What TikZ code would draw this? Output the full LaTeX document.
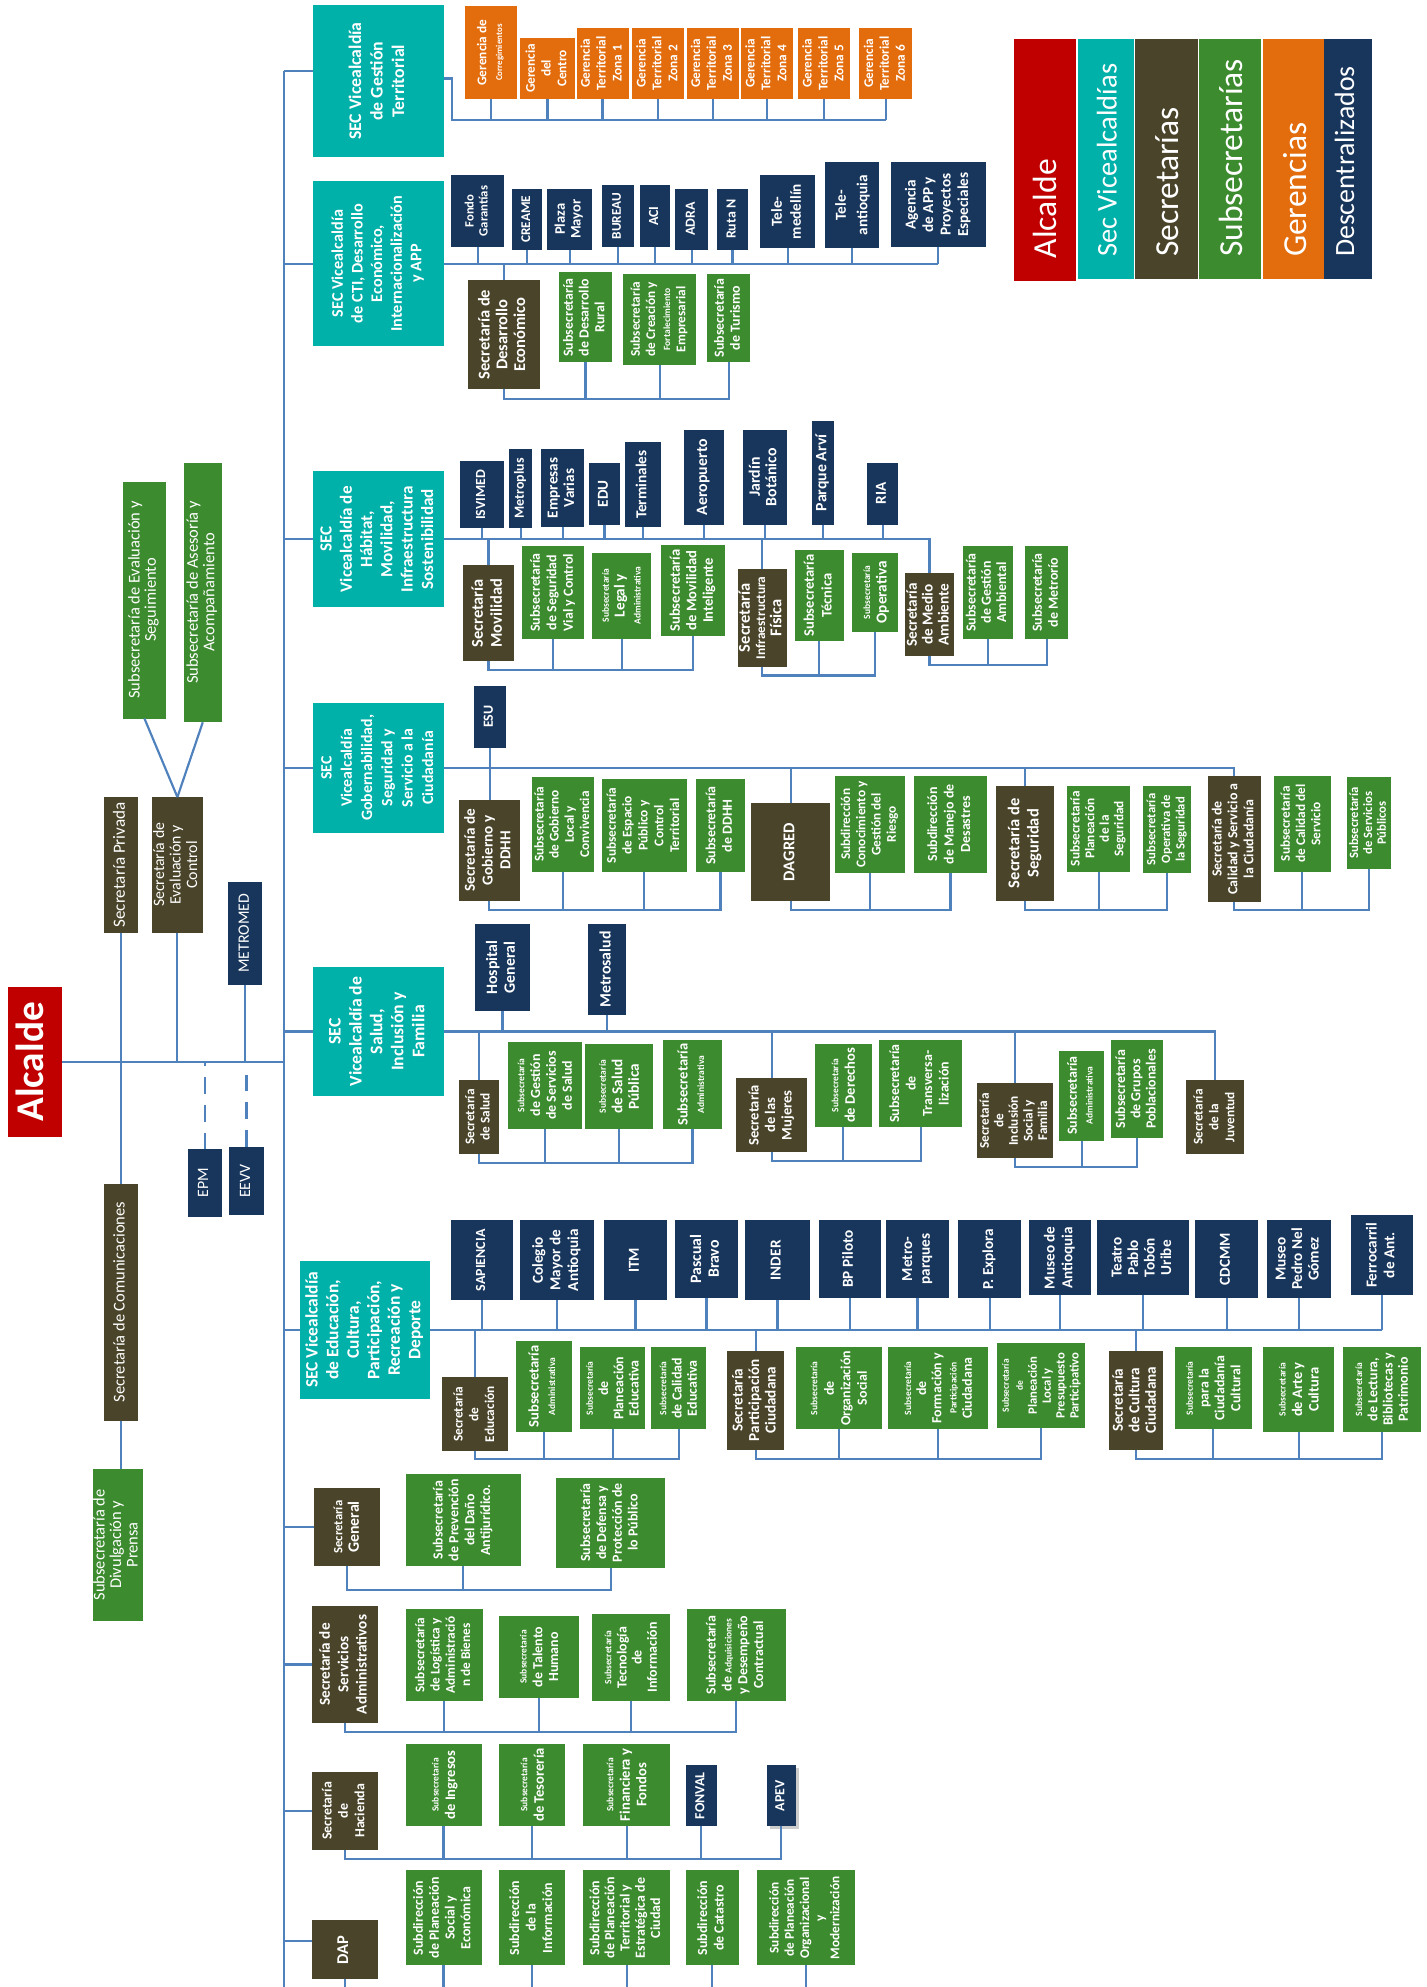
\documentclass[tikz,border=0pt]{standalone}
\usepackage{fontspec}
\setmainfont{Carlito}
\usepackage{graphicx}
\usetikzlibrary{shadows}
\definecolor{cred}{RGB}{192,0,0}
\definecolor{cteal}{RGB}{0,177,169}
\definecolor{cbrown}{RGB}{74,69,42}
\definecolor{cgreen}{RGB}{60,139,46}
\definecolor{corange}{RGB}{227,108,12}
\definecolor{cnavy}{RGB}{24,54,92}
\definecolor{cline}{RGB}{79,129,189}
\newcommand{\rt}[1]{\rotatebox{90}{\begin{tabular}{@{}c@{}}#1\end{tabular}}}
\newcommand{\sm}[1]{{\fontsize{7.5}{8}\selectfont #1}}
\newcommand{\bx}[7]{\node[#1,minimum width={(#5-#3)*1pt},minimum height={(#6-#4)*1pt}] (#2) at ({(#3+#5)/2},{(#4+#6)/2}) {\rt{#7}};}
\tikzset{
  box/.style={inner sep=0pt, outer sep=0pt, text=white},
  fz/.style 2 args={font=\bfseries\fontsize{#1}{#2}\selectfont},
  fr/.style 2 args={font=\fontsize{#1}{#2}\selectfont},
  sec/.style={box, fill=cteal, fz={13.5}{16.5}},
  ger/.style={box, fill=corange, fz={10.5}{12.5}},
  ent/.style={box, fill=cnavy, fz={12}{14}},
  scr/.style={box, fill=cbrown, fz={12}{14}},
  sub/.style={box, fill=cgreen, fz={11}{12.5}},
  conn/.style={draw=cline, line width=1.7pt},
  lgbox/.style={inner sep=0pt, outer sep=0pt},
  lgtxt/.style={rotate=90, anchor=west, inner sep=0pt, text=white},
}
\begin{document}
\begin{tikzpicture}[x=1pt,y=-1pt]
\fill[white] (0,0) rectangle (1126,1568);
\useasboundingbox (0,0) rectangle (1126,1568);
\coordinate (spTop) at (224,56);
\coordinate (spBot) at (224,1568);
\coordinate (pgK) at (0,1568);

% ---------- Legend ----------
\node[lgbox, fill=cred, minimum width=49pt, minimum height=191pt] (lg1) at (824.5,126.5) {};
\node[lgbox, fill=cteal, minimum width=44pt, minimum height=189pt] (lg2) at (873,125.5) {};
\node[lgbox, fill=cbrown, minimum width=49pt, minimum height=189pt] (lg3) at (920.5,125.5) {};
\node[lgbox, fill=cgreen, minimum width=49pt, minimum height=189pt] (lg4) at (970.5,125.5) {};
\node[lgbox, fill=corange, minimum width=48pt, minimum height=189pt] (lg5) at (1021,125.5) {};
\node[lgbox, fill=cnavy, minimum width=38pt, minimum height=189pt] (lg6) at (1064,125.5) {};
\node[lgtxt, fr={26.5}{28}] (lg1t) at (824.5,204) {Alcalde};
\node[lgtxt, fr={22.5}{24}] (lg2t) at (873.5,203) {Sec Vicealcaldías};
\node[lgtxt, fr={26.5}{28}] (lg3t) at (921,203) {Secretarías};
\node[lgtxt, fr={26.5}{28}] (lg4t) at (971,203) {Subsecretarías};
\node[lgtxt, fr={26.5}{28}] (lg5t) at (1022,203) {Gerencias};
\node[lgtxt, fr={22}{24}] (lg6t) at (1061,203) {Descentralizados};

% ---------- Left side ----------
\bx{box,fill=cred,fz={31}{34}}{alc}{6}{779}{49}{897}{Alcalde}
\bx{scr,fr={13.5}{15}}{spv}{82}{629}{109}{736}{Secretaría Privada}
\bx{scr,fr={12.5}{13}}{evc}{120}{629}{160}{736}{Secretaría de\\Evaluación y\\Control}
\bx{sub,fr={13}{13}}{ses}{97}{380}{131}{567}{Subsecretaría de Evaluación y\\Seguimiento}
\bx{sub,fr={13}{13}}{sas}{145}{365}{175}{570}{Subsecretaría de Asesoría y\\Acompañamiento}
\bx{ent,fr={12.5}{14}}{mtm}{180}{696}{207}{777}{METROMED}
\bx{ent,fr={12.5}{14}}{epm}{148}{907}{175}{960}{EPM}
\bx{ent,fr={12.5}{14}}{eev}{181}{905}{208}{959}{EEVV}
\bx{scr,fr={13}{14}}{com}{82}{934}{109}{1121}{Secretaría de Comunicaciones}
\bx{sub,fr={13}{13}}{div}{73}{1159}{113}{1279}{Subsecretaría de\\Divulgación y\\Prensa}

\draw[conn] (spTop) -- (spBot);
\draw[conn] (alc.east) -- (alc.east -| spTop);
\draw[conn] (spv.south) -- (spv.south |- alc.east);
\draw[conn] (com.north) -- (com.north |- alc.east);
\draw[conn] (com.south) -- (com.south |- div.north);
\draw[conn] (evc.south) -- (evc.south |- alc.east);
\draw[conn] (ses.south) -- (evc.north);
\draw[conn] (sas.south) -- (evc.north);
\draw[conn] (mtm.south) -- (mtm.south |- alc.east);
\draw[conn, dash pattern=on 13pt off 9pt] (epm.north) -- (epm.north |- alc.east);
\draw[conn, dash pattern=on 13pt off 9pt] (eev.north) -- (eev.north |- alc.east);

% ---------- Territorial ----------
\bx{sec,fz={14}{17}}{ter}{247}{4}{350}{124}{SEC Vicealcaldía\\de Gestión\\Territorial}
\bx{ger}{gco}{367}{5}{408}{78}{Gerencia de\\{\fontsize{7}{8}\selectfont Corregimientos}}
\bx{ger}{gce}{410}{30}{454}{78}{Gerencia\\del\\Centro}
\bx{ger}{gz1}{455}{22}{496}{78}{Gerencia\\Territorial\\Zona 1}
\bx{ger}{gz2}{499}{22}{540}{78}{Gerencia\\Territorial\\Zona 2}
\bx{ger}{gz3}{542}{22}{583}{78}{Gerencia\\Territorial\\Zona 3}
\bx{ger}{gz4}{585}{22}{626}{78}{Gerencia\\Territorial\\Zona 4}
\bx{ger}{gz5}{630}{22}{671}{78}{Gerencia\\Territorial\\Zona 5}
\bx{ger}{gz6}{678}{22}{720}{78}{Gerencia\\Territorial\\Zona 6}
\coordinate (terK) at (357,95);
\draw[conn] ([yshift=8pt]ter.west) -- ([yshift=8pt]ter.west -| spTop);
\draw[conn] ([yshift=2pt]ter.east) -| (terK) -- (terK -| gz6.south);
\foreach \n in {gco,gce,gz1,gz2,gz3,gz4,gz5,gz6} \draw[conn] (\n.south) -- (\n.south |- terK);

% ---------- CTI ----------
\bx{sec,fz={12.8}{15.5}}{cti}{247}{143}{350}{273}{SEC Vicealcaldía\\de CTI, Desarrollo\\Económico,\\Internacionalización\\y APP}
\bx{ent,fz={10}{11}}{fon}{356}{138}{398}{195}{Fondo\\Garantías}
\bx{ent,fz={10.5}{12}}{crm}{404}{149}{428}{197}{CREAME}
\bx{ent,fz={11.5}{12.5}}{plz}{432}{149}{467}{197}{Plaza\\Mayor}
\bx{ent,fz={10.5}{12}}{bur}{475}{146}{500}{195}{BUREAU}
\bx{ent,fz={11}{12}}{aci}{505}{146}{529}{195}{ACI}
\bx{ent,fz={11}{12}}{adr}{533}{149}{559}{197}{ADRA}
\bx{ent,fz={11}{12}}{rtn}{566}{149}{590}{197}{Ruta N}
\bx{ent,fz={12}{15}}{tme}{600}{138}{643}{196}{Tele-\\medellín}
\bx{ent,fz={12}{17}}{tan}{651}{128}{694}{196}{Tele-\\antioquia}
\bx{ent,fz={12}{13.8}}{age}{703}{128}{778}{195}{Agencia\\de APP y\\Proyectos\\Especiales}
\bx{scr,fz={13}{14}}{sde}{369}{221}{426}{307}{Secretaría de\\Desarrollo\\Económico}
\bx{sub,fz={11}{12.5}}{srur}{441}{215}{483}{286}{Subsecretaría\\de  Desarrollo\\Rural}
\bx{sub,fz={10.5}{12}}{scre}{492}{216}{549}{288}{Subsecretaría\\de  Creación y\\\sm{Fortalecimiento}\\Empresarial}
\bx{sub,fz={11}{12.5}}{stur}{558}{216}{592}{286}{Subsecretaría\\de  Turismo}
\draw[conn] (cti.west) -- (cti.west -| spTop);
\draw[conn] (cti.east) -- (cti.east -| age.south);
\foreach \n in {fon,crm,plz,bur,aci,adr,rtn,tme,tan,age} \draw[conn] (\n.south) -- (\n.south |- cti.east);
\draw[conn] (sde.north) -- (sde.north |- cti.east);
\coordinate (ctiK) at (0,315);
\draw[conn] (sde.south) -- (sde.south |- ctiK) -- (stur.south |- ctiK) -- (stur.south);
\foreach \n in {srur,scre} \draw[conn] (\n.south) -- (\n.south |- ctiK);

% ---------- Habitat ----------
\bx{sec,fz={13.5}{16}}{hab}{247}{372}{350}{479}{SEC\\Vicealcaldía  de\\Hábitat,\\Movilidad,\\Infraestructura\\Sostenibilidad}
\bx{ent,fz={11}{12}}{isv}{363}{364}{398}{417}{ISVIMED}
\bx{ent,fz={11}{12}}{mtp}{402}{354}{420}{417}{Metroplus}
\bx{ent,fz={12}{13}}{emv}{427}{354}{461}{416}{Empresas\\Varias}
\bx{ent,fz={12}{13}}{edup}{465}{365}{489}{414}{EDU}
\bx{ent,fz={12}{13}}{trm}{493}{349}{522}{416}{Terminales}
\bx{ent,fz={12.5}{13}}{aer}{540}{339}{571}{414}{Aeropuerto}
\bx{ent,fz={12.5}{13}}{jbo}{586}{339}{621}{414}{Jardín\\Botánico}
\bx{ent,fz={12.5}{13}}{arv}{641}{332}{658}{414}{Parque Arví}
\bx{ent,fz={12}{13}}{ria}{684}{365}{709}{414}{RIA}
\bx{scr,fz={13}{15}}{smo}{365}{446}{406}{522}{Secretaría\\Movilidad}
\bx{sub,fz={11}{13}}{ssv}{412}{431}{461}{504}{Subsecretaría\\de  Seguridad\\Vial y Control}
\bx{sub,fz={12}{12.5}}{sla}{467}{436}{514}{504}{\sm{Subsecretaría}\\Legal y\\\sm{Administrativa}}
\bx{sub,fz={11.5}{13}}{smi}{522}{430}{572}{502}{Subsecretaría\\de Movilidad\\Inteligente}
\bx{scr,fz={13}{12}}{sif}{582}{449}{621}{526}{Secretaría\\{\fontsize{10.5}{12}\selectfont Infraestructura}\\Física}
\bx{sub,fz={11.5}{14}}{stc}{627}{434}{666}{506}{Subsecretaría\\Técnica}
\bx{sub,fz={12}{13}}{sop}{672}{436}{709}{499}{\sm{Subsecretaría}\\Operativa}
\bx{scr,fz={12}{12.5}}{sma}{714}{452}{753}{518}{Secretaría\\de Medio\\Ambiente}
\bx{sub,fz={11}{12}}{sga}{760}{431}{799}{504}{Subsecretaría\\de  Gestión\\Ambiental}
\bx{sub,fz={11}{12.5}}{smr}{809}{431}{843}{504}{Subsecretaría\\de  Metrorío}
\draw[conn] (hab.west) -- (hab.west -| spTop);
\draw[conn] (hab.east) -| (sma.north);
\foreach \n in {isv,mtp,emv,edup,trm,aer,jbo,arv,ria} \draw[conn] (\n.south) -- (\n.south |- hab.east);
\foreach \n in {smo,sif} \draw[conn] (\n.north) -- (\n.north |- hab.east);
\coordinate (habK1) at (0,529);
\coordinate (habK2) at (0,533);
\coordinate (habK3) at (0,525);
\draw[conn] (smo.south) -- (smo.south |- habK1) -- (smi.south |- habK1) -- (smi.south);
\foreach \n in {ssv,sla} \draw[conn] (\n.south) -- (\n.south |- habK1);
\draw[conn] (sif.south) -- (sif.south |- habK2) -- (sop.south |- habK2) -- (sop.south);
\draw[conn] (stc.south) -- (stc.south |- habK2);
\draw[conn] (sma.south) -- (sma.south |- habK3) -- (smr.south |- habK3) -- (smr.south);
\draw[conn] (sga.south) -- (sga.south |- habK3);

% ---------- Gobernabilidad ----------
\bx{sec,fz={12.5}{16}}{gob}{247}{555}{350}{657}{SEC\\Vicealcaldía\\Gobernabilidad,\\Seguridad  y\\Servicio a la\\Ciudadanía}
\bx{ent,fz={11}{12}}{esu}{374}{541}{399}{590}{ESU}
\bx{scr,fz={12}{14}}{sgd}{362}{631}{410}{711}{Secretaría de\\Gobierno y\\DDHH}
\bx{sub,fz={10.5}{12}}{sgl}{420}{613}{469}{688}{Subsecretaría\\de Gobierno\\Local y\\Convivencia}
\bx{sub,fz={10.5}{12.5}}{sep}{475}{615}{542}{688}{Subsecretaría\\de Espacio\\Público y\\Control\\Territorial}
\bx{sub,fz={11}{13}}{sdh}{549}{615}{588}{688}{Subsecretaría\\de  DDHH}
\bx{scr,fz={13}{14}}{dag}{593}{634}{655}{711}{DAGRED}
\bx{sub,fz={10.5}{12}}{scg}{659}{612}{714}{689}{Subdirección\\Conocimiento y\\Gestión del\\Riesgo}
\bx{sub,fz={11}{13}}{smd}{721}{612}{779}{689}{Subdirección\\de Manejo de\\Desastres}
\bx{scr,fz={13}{15}}{sse}{786}{620}{832}{711}{Secretaría de\\Seguridad}
\bx{sub,fz={10.5}{11.5}}{sps}{842}{620}{892}{688}{Subsecretaría\\Planeación\\de la\\Seguridad}
\bx{sub,fz={10}{11.5}}{sos}{902}{620}{940}{689}{Subsecretaría\\Operativa de\\la Seguridad}
\bx{scr,fz={11}{12.5}}{sca}{953}{612}{995}{712}{Secretaría de\\Calidad y Servicio a\\la Ciudadanía}
\bx{sub,fz={10.5}{12}}{scs}{1005}{612}{1050}{688}{Subsecretaría\\de  Calidad del\\Servicio}
\bx{sub,fz={10}{11}}{ssp}{1063}{613}{1098}{686}{Subsecretaría\\de Servicios\\Públicos}
\draw[conn] (gob.west) -- (gob.west -| spTop);
\draw[conn] (gob.east) -| (sca.north);
\draw[conn] (esu.south) -- (esu.south |- sgd.north);
\foreach \n in {dag,sse} \draw[conn] (\n.north) -- (\n.north |- gob.east);
\coordinate (gobK) at (0,718);
\draw[conn] (sgd.south) -- (sgd.south |- gobK) -- (sdh.south |- gobK) -- (sdh.south);
\draw[conn] (dag.south) -- (dag.south |- gobK) -- (smd.south |- gobK) -- (smd.south);
\draw[conn] (sse.south) -- (sse.south |- gobK) -- (sos.south |- gobK) -- (sos.south);
\draw[conn] (sca.south) -- (sca.south |- gobK) -- (ssp.south |- gobK) -- (ssp.south);
\foreach \n in {sgl,sep,scg,sps,scs} \draw[conn] (\n.south) -- (\n.south |- gobK);

% ---------- Salud ----------
\bx{sec,fz={14}{16.5}}{sal}{247}{763}{350}{865}{SEC\\Vicealcaldía  de\\Salud,\\Inclusión y\\Familia}
\bx{ent,fz={12.5}{14}}{hos}{375}{729}{418}{798}{Hospital\\General}
\bx{ent,fz={12.5}{14}}{msa}{464}{729}{494}{801}{Metrosalud}
\bx{scr,fz={10.5}{12}}{ssl}{362}{852}{394}{911}{Secretaría\\de  Salud}
\bx{sub,fz={11}{12.5}}{sgs}{401}{822}{459}{891}{\sm{Subsecretaría}\\de Gestión\\de Servicios\\de Salud}
\bx{sub,fz={12}{13}}{ssu}{462}{824}{515}{891}{\sm{Subsecretaría}\\de Salud\\Pública}
\bx{sub,fz={11.5}{13}}{sad}{523}{821}{570}{891}{Subsecretaría\\\sm{Administrativa}}
\bx{scr,fz={11.5}{13}}{smj}{581}{851}{637}{909}{Secretaría\\de las\\Mujeres}
\bx{sub,fz={11.5}{13}}{sder}{643}{824}{688}{889}{\sm{Subsecretaría}\\de Derechos}
\bx{sub,fz={11}{13}}{stv}{694}{821}{759}{889}{Subsecretaría\\de\\Transversa-\\lización}
\bx{scr,fz={10.5}{11.5}}{sis}{771}{855}{831}{914}{Secretaría\\de\\Inclusión\\Social y\\Familia}
\bx{sub,fz={11}{12.5}}{sadd}{836}{829}{871}{900}{Subsecretaría\\\sm{Administrativa}}
\bx{sub,fz={11}{12}}{sgp}{877}{821}{918}{898}{Subsecretaría\\de Grupos\\Poblacionales}
\bx{scr,fz={10.5}{12.5}}{sjv}{936}{852}{982}{911}{Secretaría\\de la\\Juventud}
\draw[conn] (sal.west) -- (sal.west -| spTop);
\draw[conn] (sal.east) -| (sjv.north);
\foreach \n in {hos,msa} \draw[conn] (\n.south) -- (\n.south |- sal.east);
\foreach \n in {ssl,smj,sis} \draw[conn] (\n.north) -- (\n.north |- sal.east);
\coordinate (salK1) at (0,918);
\coordinate (salK2) at (0,916);
\coordinate (salK3) at (0,921);
\draw[conn] (ssl.south) -- (ssl.south |- salK1) -- (sad.south |- salK1) -- (sad.south);
\foreach \n in {sgs,ssu} \draw[conn] (\n.south) -- (\n.south |- salK1);
\draw[conn] (smj.south) -- (smj.south |- salK2) -- (stv.south |- salK2) -- (stv.south);
\draw[conn] (sder.south) -- (sder.south |- salK2);
\draw[conn] (sis.south) -- (sis.south |- salK3) -- (sgp.south |- salK3) -- (sgp.south);
\draw[conn] (sadd.south) -- (sadd.south |- salK3);

% ---------- Educacion ----------
\bx{sec,fz={13.8}{16.2}}{vedu}{237}{995}{339}{1104}{SEC Vicealcaldía\\de  Educación,\\Cultura,\\Participación,\\Recreación y\\Deporte}
\bx{ent,fz={11}{12}}{sap}{356}{963}{405}{1026}{SAPIENCIA}
\bx{ent,fz={12}{14}}{cma}{410}{963}{469}{1026}{Colegio\\Mayor de\\Antioquia}
\bx{ent,fz={12}{13}}{itm}{477}{963}{526}{1026}{ITM}
\bx{ent,fz={12.5}{14}}{pbr}{533}{963}{582}{1024}{Pascual\\Bravo}
\bx{ent,fz={12}{13}}{ind}{588}{963}{639}{1026}{INDER}
\bx{ent,fz={12}{13}}{bpp}{646}{963}{695}{1024}{BP Piloto}
\bx{ent,fz={12}{14}}{mpq}{699}{963}{749}{1024}{Metro-\\parques}
\bx{ent,fz={12}{13}}{pex}{756}{963}{806}{1024}{P. Explora}
\bx{ent,fz={12}{14}}{man}{812}{963}{861}{1022}{Museo de\\Antioquia}
\bx{ent,fz={12}{13}}{tpt}{866}{963}{938}{1022}{Teatro\\Pablo\\Tobón\\Uribe}
\bx{ent,fz={12}{13}}{cdc}{943}{963}{993}{1024}{CDCMM}
\bx{ent,fz={12}{13}}{mpn}{1000}{963}{1050}{1024}{Museo\\Pedro Nel\\Gómez}
\bx{ent,fz={12}{14}}{fer}{1066}{959}{1115}{1022}{Ferrocarril\\de Ant.}
\bx{scr,fz={10.5}{12.5}}{sedu}{349}{1087}{401}{1145}{Secretaría\\de\\Educación}
\bx{sub,fz={11.5}{13}}{sae}{407}{1058}{451}{1130}{Subsecretaría\\\sm{Administrativa}}
\bx{sub,fz={11}{12}}{spe}{458}{1063}{509}{1128}{\sm{Subsecretaría}\\de\\Planeación\\Educativa}
\bx{sub,fz={11}{12}}{sce}{514}{1063}{557}{1128}{\sm{Subsecretaría}\\de Calidad\\Educativa}
\bx{scr,fz={12}{13}}{spc}{574}{1066}{619}{1144}{Secretaría\\Participación\\Ciudadana}
\bx{sub,fz={11}{13}}{sor}{628}{1063}{696}{1128}{\sm{Subsecretaría}\\de\\Organización\\Social}
\bx{sub,fz={11}{12}}{sfp}{701}{1063}{780}{1128}{\sm{Subsecretaría}\\de\\Formación y\\\sm{Participación}\\Ciudadana}
\bx{sub,fz={10}{11}}{spl}{787}{1060}{856}{1127}{\sm{Subsecretaría}\\\sm{de}\\Planeación\\Local y\\Presupuesto\\Participativo}
\bx{scr,fz={12}{13}}{scc}{875}{1066}{918}{1144}{Secretaría\\de Cultura\\Ciudadana}
\bx{sub,fz={11}{12.5}}{scu}{927}{1063}{988}{1128}{\sm{Subsecretaría}\\para la\\Ciudadanía\\Cultural}
\bx{sub,fz={11.5}{13}}{sac}{997}{1063}{1053}{1130}{\sm{Subsecretaría}\\de Arte y\\Cultura}
\bx{sub,fz={11}{12}}{slb}{1060}{1063}{1121}{1130}{\sm{Subsecretaría}\\de Lectura,\\Bibliotecas y\\Patrimonio}
\draw[conn] (vedu.west) -- (vedu.west -| spTop);
\draw[conn] (vedu.east) -- (vedu.east -| fer.south);
\foreach \n in {sap,cma,itm,pbr,ind,bpp,mpq,pex,man,tpt,cdc,mpn,fer} \draw[conn] (\n.south) -- (\n.south |- vedu.east);
\foreach \n in {sedu,spc,scc} \draw[conn] (\n.north) -- (\n.north |- vedu.east);
\coordinate (eduK) at (0,1151);
\draw[conn] (sedu.south) -- (sedu.south |- eduK) -- (sce.south |- eduK) -- (sce.south);
\draw[conn] (spc.south) -- (spc.south |- eduK) -- (spl.south |- eduK) -- (spl.south);
\draw[conn] (scc.south) -- (scc.south |- eduK) -- (slb.south |- eduK) -- (slb.south);
\foreach \n in {sae,spe,sor,sfp,scu,sac} \draw[conn] (\n.south) -- (\n.south |- eduK);

% ---------- Secretaria General ----------
\bx{scr,fz={12.5}{13}}{sgn}{248}{1174}{300}{1236}{{\fontsize{10}{11}\selectfont Secretaría}\\General}
\bx{sub,fz={11}{12.5}}{spr}{320}{1163}{411}{1236}{Subsecretaría\\de  Prevención\\del Daño\\Antijurídico.}
\bx{sub,fz={11}{12.5}}{sdp}{439}{1166}{525}{1237}{Subsecretaría\\de  Defensa y\\Protección de\\lo Público}
\draw[conn] (sgn.west) -- (sgn.west -| spTop);
\coordinate (genK) at (0,1255);
\draw[conn] (sgn.south) -- (sgn.south |- genK) -- (sdp.south |- genK) -- (sdp.south);
\draw[conn] (spr.south) -- (spr.south |- genK);

% ---------- Servicios Administrativos ----------
\bx{scr,fz={12}{14.5}}{ssad}{246}{1267}{298}{1360}{Secretaría de\\Servicios\\Administrativos}
\bx{sub,fz={10.5}{12}}{slg}{320}{1270}{381}{1342}{Subsecretaría\\de  Logística y\\Administració\\n de  Bienes}
\bx{sub,fz={11}{12.5}}{sth}{394}{1275}{457}{1340}{\sm{Subsecretaría}\\de  Talento\\Humano}
\bx{sub,fz={11}{12}}{sti}{467}{1274}{529}{1342}{\sm{Subsecretaría}\\Tecnología\\de\\Información}
\bx{sub,fz={11}{12.5}}{sdc}{542}{1270}{620}{1342}{Subsecretaría\\de \sm{Adquisiciones}\\y Desempeño\\Contractual}
\draw[conn] (ssad.west) -- (ssad.west -| spTop);
\coordinate (ssaK) at (0,1367);
\draw[conn] (ssad.south) -- (ssad.south |- ssaK) -- (sdc.south |- ssaK) -- (sdc.south);
\foreach \n in {slg,sth,sti} \draw[conn] (\n.south) -- (\n.south |- ssaK);

% ---------- Hacienda ----------
\bx{scr,fz={11}{13}}{shc}{246}{1398}{298}{1460}{Secretaría\\de\\Hacienda}
\bx{sub,fz={11.5}{13}}{sig}{320}{1376}{380}{1441}{\sm{Subsecretaría}\\de  Ingresos}
\bx{sub,fz={11.5}{13}}{str}{394}{1376}{446}{1441}{\sm{Subsecretaría}\\de  Tesorería}
\bx{sub,fz={11.5}{13}}{sfi}{460}{1376}{529}{1441}{\sm{Subsecretaría}\\Financiera y\\Fondos}
\bx{ent,fz={11}{12}}{fnv}{541}{1393}{566}{1441}{FONVAL}
\bx{ent,fz={11}{12},drop shadow={opacity=0.4}}{apv}{605}{1393}{628}{1441}{APEV}
\draw[conn] (shc.west) -- (shc.west -| spTop);
\coordinate (hacK) at (0,1467);
\draw[conn] (shc.south) -- (shc.south |- hacK) -- (apv.south |- hacK) -- (apv.south);
\foreach \n in {sig,str,sfi,fnv} \draw[conn] (\n.south) -- (\n.south |- hacK);

% ---------- DAP ----------
\bx{scr,fz={13}{14}}{dap}{246}{1515}{298}{1562}{DAP}
\bx{sub,fz={11}{12.5}}{dps}{320}{1476}{380}{1551}{Subdirección\\de  Planeación\\Social y\\Económica}
\bx{sub,fz={11}{13}}{dpi}{394}{1476}{446}{1551}{Subdirección\\de la\\Información}
\bx{sub,fz={11}{12}}{dpt}{460}{1476}{529}{1551}{Subdirección\\de  Planeación\\Territorial y\\Estratégica de\\Ciudad}
\bx{sub,fz={11}{13}}{dpc}{541}{1476}{583}{1551}{Subdirección\\de  Catastro}
\bx{sub,fz={10.5}{12}}{dpo}{597}{1476}{675}{1551}{Subdirección\\de  Planeación\\Organizacional\\y\\Modernización}
\draw[conn] ([yshift=6.5pt]dap.west) -- ([yshift=6.5pt]dap.west -| spTop);
\foreach \n in {dap,dps,dpi,dpt,dpc,dpo} \draw[conn] (\n.south) -- (\n.south |- pgK);
\end{tikzpicture}
\end{document}
